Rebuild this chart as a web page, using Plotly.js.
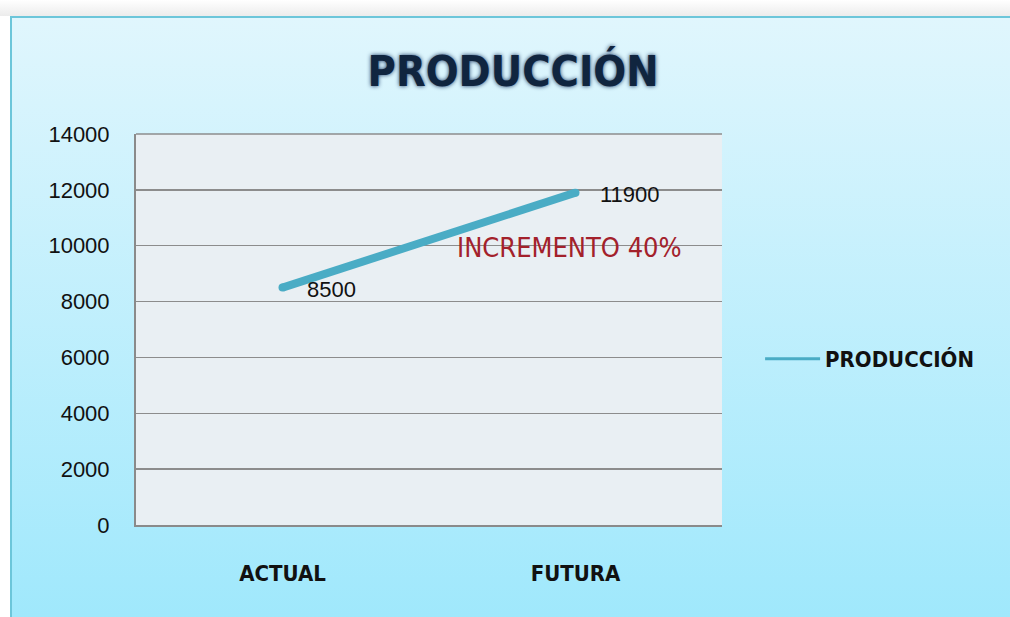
<!DOCTYPE html>
<html><head><meta charset="utf-8">
<script src="https://cdn.plot.ly/plotly-3.0.1.min.js"></script>
<style>
html,body{margin:0;padding:0;width:1010px;height:617px;overflow:hidden;background:#ffffff;}
#shadow{position:absolute;left:0;top:0;width:1010px;height:16px;background:linear-gradient(#ffffff,#ececec);}
#frame{position:absolute;left:10px;top:16px;width:1010px;height:610px;box-sizing:border-box;border:2px solid #6cc6da;background:linear-gradient(#e0f6fd,#9fe8fc);}
#chart{position:absolute;left:0;top:0;width:1010px;height:617px;}
</style></head><body>
<div id="shadow"></div><div id="frame"></div><div id="chart"></div>
<script>
const categories = ["ACTUAL", "FUTURA"];
const produccion = [8500, 11900];
const labels = ["8500", "11900"];
const yTicks = [0, 2000, 4000, 6000, 8000, 10000, 12000, 14000];
const note = "INCREMENTO 40%";
const seriesName = "PRODUCCIÓN";

const trace = {
  x: categories, y: produccion, type: 'scatter', mode: 'lines+markers',
  name: seriesName, showlegend: false,
  line: {color: '#4aacc5', width: 8},
  marker: {color: '#4aacc5', size: 8, symbol: 'circle', line: {width: 0}}
};
const legendTrace = {
  x: [null], y: [null], type: 'scatter', mode: 'lines', name: seriesName,
  line: {color: '#4aacc5', width: 3}
};
const labelAnnotations = categories.map((c, i) => ({
  x: c, y: produccion[i], xref: 'x', yref: 'y', text: labels[i], showarrow: false,
  xanchor: 'left', yanchor: 'middle', xshift: 22, yshift: -2,
  font: {family: 'Liberation Sans, Arial', size: 22, color: '#111'}
}));
const layout = {
  width: 1010, height: 617,
  paper_bgcolor: 'rgba(0,0,0,0)', plot_bgcolor: '#e9eff3',
  margin: {l: 136, r: 288, t: 134, b: 92},
  title: {text: seriesName, x: 0.508, xanchor: 'center', y: 0.885, yanchor: 'middle',
    font: {family: 'DejaVu Sans Condensed, DejaVu Sans', size: 43, color: '#10253f', weight: 'bold',
      shadow: '0px 0px 4px #1b3a66'}},
  xaxis: {type: 'category', range: [-0.5, 1.5], showgrid: false, zeroline: false,
    showline: true, linecolor: '#8a8a8a', linewidth: 2, ticks: '',
    tickfont: {family: 'DejaVu Sans Condensed, DejaVu Sans', size: 22, color: '#111', weight: 'bold'},
    ticklabelstandoff: 28},
  yaxis: {range: [0, 14000], tickvals: yTicks, ticktext: yTicks.map(String),
    showgrid: true, gridcolor: '#8c8c8c', gridwidth: 1.5, zeroline: false,
    showline: true, linecolor: '#8a8a8a', linewidth: 2, mirror: false, ticks: '',
    tickfont: {family: 'Liberation Sans, Arial', size: 22, color: '#111'}, ticklabelstandoff: 20},
  showlegend: true,
  legend: {x: 1.065, xanchor: 'left', y: 0.425, yanchor: 'middle', bgcolor: 'rgba(0,0,0,0)',
    font: {family: 'DejaVu Sans Condensed, DejaVu Sans', size: 22, color: '#111', weight: 'bold'},
    itemwidth: 55},
  shapes: [{type: 'line', xref: 'paper', yref: 'paper', x0: 0, x1: 1, y0: 1, y1: 1,
    line: {color: '#8c8c8c', width: 1.5}}],
  annotations: labelAnnotations.concat([{text: note, xref: 'x', yref: 'y', x: 0.98, y: 9950, showarrow: false,
    xanchor: 'center', yanchor: 'middle',
    font: {family: 'DejaVu Sans Condensed, DejaVu Sans', size: 27, color: '#a3212b'}}])
};
Plotly.newPlot('chart', [trace, legendTrace], layout, {displayModeBar: false, staticPlot: true});
</script></body></html>
